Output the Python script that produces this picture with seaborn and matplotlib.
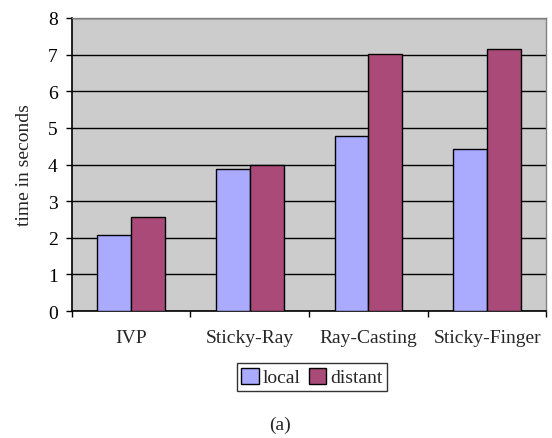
import matplotlib
matplotlib.use("Agg")
import matplotlib.pyplot as plt
import seaborn as sns
import pandas as pd
from matplotlib.patches import Patch

categories = ["IVP", "Sticky-Ray", "Ray-Casting", "Sticky-Finger"]
local_vals = [2.09, 3.87, 4.79, 4.43]
distant_vals = [2.58, 3.99, 7.02, 7.15]
series = ["local", "distant"]
colors = ["#AAABFF", "#A94A78"]

df = pd.DataFrame({
    "cat": categories * 2,
    "series": ["local"] * 4 + ["distant"] * 4,
    "value": local_vals + distant_vals,
})

sns.set_style("white")
plt.rcParams["font.family"] = ["Liberation Serif", "DejaVu Serif"]
FS = 14

fig = plt.figure(figsize=(5.52, 4.39), dpi=100)
ax = fig.add_axes([0.130, 0.289, 0.860, 0.668])
ax.set_facecolor("#CCCCCC")

sns.barplot(data=df, x="cat", y="value", hue="series", order=categories,
            hue_order=series, palette=colors, width=0.57, edgecolor="black",
            linewidth=1.0, saturation=1, ax=ax, legend=False, zorder=3)

ax.set_ylim(0, 8)
ax.set_xlim(-0.5, 3.5)
ax.set_yticks(range(0, 9))
ax.yaxis.grid(True, color="black", linewidth=1.0, zorder=0)
ax.set_axisbelow(True)
ax.set_xlabel("")
ax.set_ylabel("time in seconds", fontsize=FS, labelpad=11)
ax.tick_params(axis="y", direction="out", length=4, width=1, labelsize=FS, colors="black", left=True, pad=6)
ax.set_xticks(range(4))
ax.set_xticklabels(categories, fontsize=FS)
ax.tick_params(axis="x", which="major", length=0, pad=13)
ax.set_xticks([-0.5, 0.5, 1.5, 2.5, 3.5], minor=True)
ax.tick_params(axis="x", which="minor", direction="out", length=4, width=1, color="black", bottom=True)

for s in ["left", "bottom"]:
    ax.spines[s].set_color("black")
    ax.spines[s].set_linewidth(1.2)
for s in ["top", "right"]:
    ax.spines[s].set_color("#808080")
    ax.spines[s].set_linewidth(1.0)

handles = [Patch(facecolor=c, edgecolor="black", linewidth=1.0) for c in colors]
leg = fig.legend(handles, series, loc="center", bbox_to_anchor=(0.565, 0.139), ncol=2,
                 fontsize=FS, frameon=True, fancybox=False, handlelength=0.9,
                 handleheight=0.9, handletextpad=0.2, columnspacing=0.4,
                 borderpad=0.25, borderaxespad=0)
leg.get_frame().set_edgecolor("black")
leg.get_frame().set_linewidth(1.0)

fig.text(0.508, 0.030, "(a)", ha="center", va="center", fontsize=FS)

fig.savefig("out.png", dpi=100)
